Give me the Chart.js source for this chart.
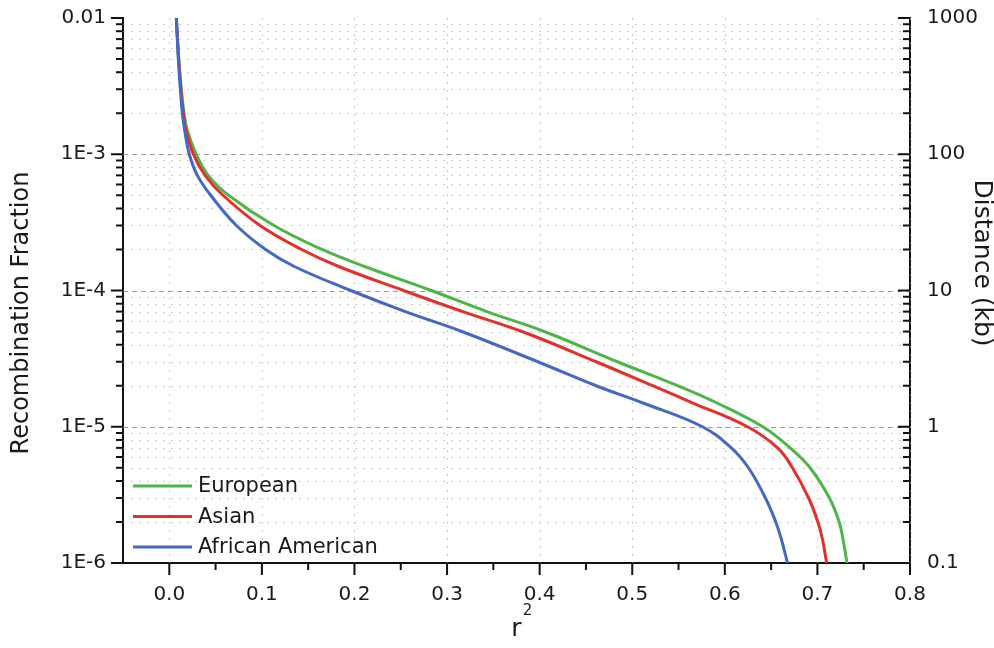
<!DOCTYPE html>
<html>
<head>
<meta charset="utf-8">
<script src="https://cdn.jsdelivr.net/npm/chart.js@4.4.1/dist/chart.umd.min.js"></script>
<style>
  html, body { margin: 0; padding: 0; background: #fff; }
  #wrap { width: 994px; height: 648px; }
</style>
</head>
<body>
<div id="wrap"><canvas id="ldChart"></canvas></div>
<script>
const recombFraction = [1e-2, 7e-3, 5e-3, 3e-3, 2e-3, 1.5e-3, 1e-3, 7e-4, 5e-4, 3e-4, 2e-4, 1.5e-4, 1e-4,
  7e-5, 5e-5, 3e-5, 2e-5, 1.5e-5, 1e-5, 7e-6, 5e-6, 3e-6, 2e-6, 1.5e-6, 1e-6];
// r^2 of each population at those levels
const europeanR2 = [0.0076, 0.0089, 0.0103, 0.013, 0.0159, 0.0194, 0.029, 0.042, 0.064, 0.113, 0.165, 0.211, 0.283,
  0.343, 0.405, 0.484, 0.549, 0.591, 0.641, 0.6705, 0.692, 0.713, 0.7235, 0.7276, 0.732];
const asianR2 = [0.0076, 0.0088, 0.0101, 0.0126, 0.0152, 0.0182, 0.026, 0.0386, 0.058, 0.098, 0.143, 0.183, 0.253,
  0.317, 0.381, 0.461, 0.522, 0.565, 0.6245, 0.657, 0.673, 0.6905, 0.7005, 0.7054, 0.710];
const africanAmericanR2 = [0.0076, 0.0087, 0.0097, 0.0119, 0.0141, 0.0166, 0.0216, 0.0303, 0.0447, 0.0725, 0.104, 0.135, 0.196,
  0.255, 0.316, 0.398, 0.461, 0.5108, 0.5758, 0.607, 0.6255, 0.6439, 0.655, 0.661, 0.6677];

const seriesNames = ['European', 'Asian', 'African American'];
const seriesColors = ['#4fb548', '#e2312b', '#4369c2'];

const xTicks = [0, 0.1, 0.2, 0.3, 0.4, 0.5, 0.6, 0.7, 0.8];
const xTickLabels = ['0.0', '0.1', '0.2', '0.3', '0.4', '0.5', '0.6', '0.7', '0.8'];
const xMinorTicks = [0.05, 0.15, 0.25, 0.35, 0.45, 0.55, 0.65, 0.75];
const leftTicks = [1e-6, 1e-5, 1e-4, 1e-3, 1e-2];
const leftTickLabels = ['1E-6', '1E-5', '1E-4', '1E-3', '0.01'];
const rightTicks = [0.1, 1, 10, 100, 1000];
const rightTickLabels = ['0.1', '1', '10', '100', '1000'];

const FONT = 'DejaVu Sans';
const TEXT = '#1a1a1a';

function toPoints(xs) {
  return xs.map((v, i) => ({ x: v, y: recombFraction[i] }));
}

// minor log values 2..9 inside each decade
function minorLogValues(decades) {
  const out = [];
  for (let i = 0; i < decades.length - 1; i++) {
    for (let m = 2; m <= 9; m++) out.push(decades[i] * m);
  }
  return out;
}

// drop the label overhang so the plot box sits where the reference has it
function noOverhang(s) {
  s.paddingTop = 0; s.paddingBottom = 0; s.paddingLeft = 0; s.paddingRight = 0;
}

const framePlugin = {
  id: 'framePlugin',
  beforeDatasetsDraw(chart) {
    const { ctx, chartArea: a, scales } = chart;
    const y = scales.y, x = scales.x;
    ctx.save();
    ctx.lineWidth = 1;
    // faint dotted minor horizontals
    ctx.strokeStyle = 'rgba(175, 170, 165, 0.6)';
    ctx.setLineDash([2, 6]);
    minorLogValues(leftTicks).forEach(v => {
      const py = Math.round(y.getPixelForValue(v)) + 0.5;
      ctx.beginPath(); ctx.moveTo(a.left, py); ctx.lineTo(a.right, py); ctx.stroke();
    });
    // dotted verticals at major r^2 ticks
    xTicks.forEach(v => {
      const px = Math.round(x.getPixelForValue(v)) + 0.5;
      ctx.beginPath(); ctx.moveTo(px, a.top); ctx.lineTo(px, a.bottom); ctx.stroke();
    });
    // dashed decade lines
    ctx.strokeStyle = 'rgba(165, 135, 125, 0.85)';
    ctx.setLineDash([5, 4]);
    leftTicks.slice(1, -1).forEach(v => {
      const py = Math.round(y.getPixelForValue(v)) + 0.5;
      ctx.beginPath(); ctx.moveTo(a.left, py); ctx.lineTo(a.right, py); ctx.stroke();
    });
    ctx.restore();
  },
  afterDatasetsDraw(chart) {
    const { ctx, chartArea: a, scales } = chart;
    const y = scales.y, y2 = scales.y2, x = scales.x;
    ctx.save();
    ctx.strokeStyle = '#111';
    ctx.lineWidth = 2;
    const seg = (x0, y0, x1, y1) => { ctx.beginPath(); ctx.moveTo(x0, y0); ctx.lineTo(x1, y1); ctx.stroke(); };
    // left axis: outward ticks
    leftTicks.forEach(v => { const p = y.getPixelForValue(v); seg(a.left - 12, p, a.left, p); });
    minorLogValues(leftTicks).forEach(v => { const p = y.getPixelForValue(v); seg(a.left - 7, p, a.left, p); });
    // right axis: inward ticks
    rightTicks.forEach(v => { const p = y2.getPixelForValue(v); seg(a.right - 12, p, a.right, p); });
    minorLogValues(rightTicks).forEach(v => { const p = y2.getPixelForValue(v); seg(a.right - 7, p, a.right, p); });
    // bottom axis: outward ticks
    xTicks.forEach(v => { const p = x.getPixelForValue(v); seg(p, a.bottom, p, a.bottom + 12); });
    xMinorTicks.forEach(v => { const p = x.getPixelForValue(v); seg(p, a.bottom, p, a.bottom + 7); });

    // legend in the lower left corner
    ctx.font = '21px "' + FONT + '"';
    ctx.textBaseline = 'middle';
    ctx.textAlign = 'left';
    seriesNames.forEach((name, i) => {
      const ly = a.bottom - 77 + i * 30.5;
      ctx.strokeStyle = seriesColors[i];
      ctx.lineWidth = 3;
      seg(a.left + 10, ly, a.left + 69, ly);
      ctx.fillStyle = TEXT;
      ctx.fillText(name, a.left + 75, ly + 1);
    });

    // axis titles
    ctx.fillStyle = TEXT;
    ctx.textAlign = 'center';
    ctx.font = '24px "' + FONT + '"';
    ctx.save();
    ctx.translate(22, a.top + 295);
    ctx.rotate(-Math.PI / 2);
    ctx.fillText('Recombination Fraction', 0, 0);
    ctx.restore();
    ctx.font = '25px "' + FONT + '"';
    ctx.save();
    ctx.translate(981, a.top + 245);
    ctx.rotate(Math.PI / 2);
    ctx.fillText('Distance (kb)', 0, 0);
    ctx.restore();
    ctx.font = '25px "' + FONT + '"';
    const cx = (a.left + a.right) / 2;
    ctx.fillText('r', cx, 629);
    ctx.font = '15px "' + FONT + '"';
    ctx.fillText('2', cx + 11, 611);
    ctx.restore();
  }
};

const seriesData = [europeanR2, asianR2, africanAmericanR2];

const ctx = document.getElementById('ldChart').getContext('2d');
const ldChart = new Chart(ctx, {
  type: 'scatter',
  data: {
    datasets: seriesNames.map((name, i) => ({
      label: name,
      data: toPoints(seriesData[i]),
      showLine: true,
      borderColor: seriesColors[i],
      backgroundColor: seriesColors[i],
      borderWidth: 3,
      pointRadius: 0,
      tension: 0.4,
      order: 3 - i,
      yAxisID: 'y'
    }))
  },
  options: {
    responsive: true,
    maintainAspectRatio: false,
    animation: false,
    layout: { padding: { top: 18, left: 0, right: 0, bottom: 0 } },
    plugins: {
      legend: { display: false },
      tooltip: { enabled: false }
    },
    scales: {
      x: {
        type: 'linear',
        min: -0.05,
        max: 0.8,
        afterBuildTicks: s => { s.ticks = xTicks.map(v => ({ value: v })); },
        afterFit: s => { s.height = 85; noOverhang(s); },
        grid: { display: false, drawTicks: false },
        border: { display: true, color: '#111', width: 2 },
        ticks: {
          padding: 20,
          color: TEXT,
          font: { family: FONT, size: 20 },
          maxRotation: 0,
          callback: (v, i) => xTickLabels[i]
        }
      },
      y: {
        type: 'logarithmic',
        position: 'left',
        min: 1e-6,
        max: 1e-2,
        afterBuildTicks: s => { s.ticks = leftTicks.map(v => ({ value: v })); },
        afterFit: s => { s.width = 123; noOverhang(s); },
        grid: { display: false, drawTicks: false },
        border: { display: true, color: '#111', width: 2 },
        ticks: {
          padding: 17,
          color: TEXT,
          font: { family: FONT, size: 20 },
          callback: (v, i) => leftTickLabels[i]
        }
      },
      y2: {
        type: 'logarithmic',
        position: 'right',
        min: 0.1,
        max: 1000,
        afterBuildTicks: s => { s.ticks = rightTicks.map(v => ({ value: v })); },
        afterFit: s => { s.width = 84; noOverhang(s); },
        grid: { display: false, drawTicks: false },
        border: { display: true, color: '#111', width: 2 },
        ticks: {
          padding: 17,
          color: TEXT,
          font: { family: FONT, size: 20 },
          callback: (v, i) => rightTickLabels[i]
        }
      }
    }
  },
  plugins: [framePlugin]
});
</script>
</body>
</html>
